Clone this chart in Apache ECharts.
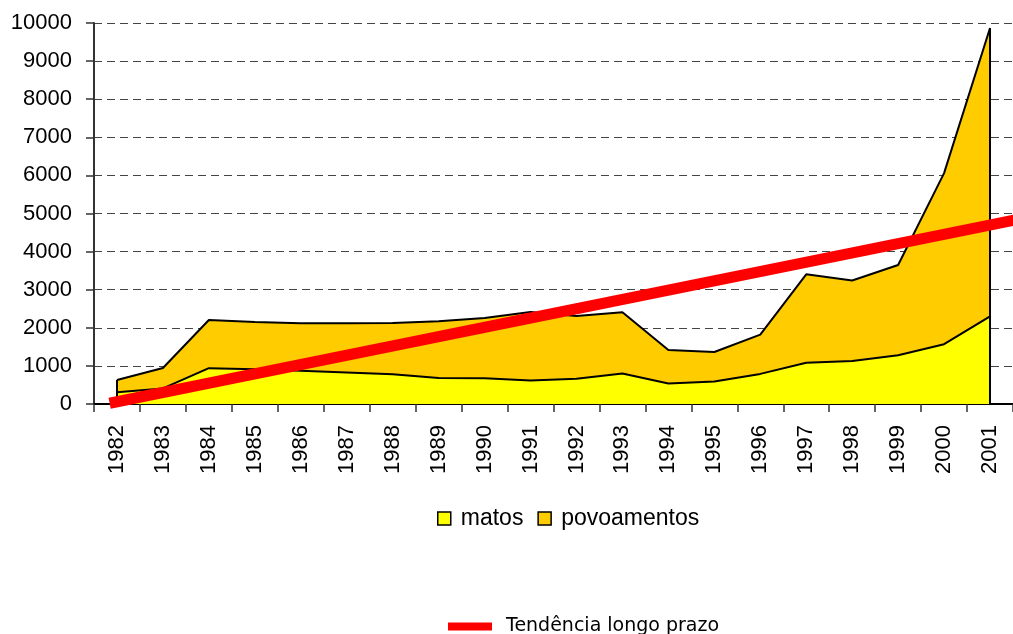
<!DOCTYPE html>
<html>
<head>
<meta charset="utf-8">
<style>
	html,body{ margin:0; padding:0; background:#fff;}
	#mainBox{ width:1013px; height:634px;}
</style>
</head>
<body>
<div id="mainBox"></div>
<script src="https://cdn.jsdelivr.net/npm/echarts@6/dist/echarts.min.js"></script>
<script>
var years=['1982','1983','1984','1985','1986','1987','1988','1989','1990','1991','1992','1993','1994','1995','1996','1997','1998','1999','2000','2001'];
var matos=[310,410,940,910,875,830,780,685,675,620,665,800,540,590,790,1085,1130,1280,1570,2300];
var povoamentos=[320,535,1265,1245,1245,1290,1345,1485,1585,1795,1645,1610,880,775,1030,2320,2110,2370,4490,7570];
var trendX=[-0.16,19.6];
var trendY=[20,4845];
var yTicks=[0,10000,1000];

var font='"Liberation Sans", Arial, sans-serif';
var last=years.length-1;
var trendData=[];
for(var i=0;i<trendX.length;i++){
	trendData.push([trendX[i],trendY[i]]);
}
// black outline on the two vertical ends of the stacked area
var edges=[
	[{coord:[years[0],0]},{coord:[years[0],matos[0]+povoamentos[0]]}],
	[{coord:[years[last],0]},{coord:[years[last],matos[last]+povoamentos[last]]}]
];

var myChart=echarts.init(document.getElementById('mainBox'));
myChart.setOption({
	animation:false,
	grid:{left:94,top:23,width:932,height:381,containLabel:false},
	legend:[{
		data:['matos','povoamentos'],
		left:437,top:507,padding:0,
		itemWidth:13,itemHeight:13,itemGap:14,
		icon:'rect',
		itemStyle:{borderColor:'#000',borderWidth:1.5},
		textStyle:{fontFamily:font,fontSize:23,color:'#000',padding:[0,0,0,5]}
	},{
		data:['Tendência longo prazo'],
		left:448,top:617,padding:0,
		itemWidth:44,itemHeight:8,
		icon:'rect',
		textStyle:{fontFamily:'"DejaVu Sans", sans-serif',fontSize:19,color:'#000',padding:[0,0,0,9]}
	}],
	xAxis:[{
		type:'category',
		data:years,
		boundaryGap:true,
		axisLine:{lineStyle:{color:'#000',width:2}},
		axisTick:{show:true,length:8,lineStyle:{color:'#333',width:1.5}},
		axisLabel:{rotate:90,margin:21,fontFamily:font,fontSize:22,color:'#000'}
	},{
		type:'value',
		min:-0.5,max:19.5,
		show:false
	}],
	yAxis:{
		type:'value',
		min:yTicks[0],max:yTicks[1],interval:yTicks[2],
		axisLine:{show:true,onZero:false,lineStyle:{color:'#333',width:2}},
		axisTick:{show:true,length:8,lineStyle:{color:'#333',width:1.5}},
		axisLabel:{margin:22,fontFamily:font,fontSize:22,color:'#000',formatter:function(v){return String(v);}},
		splitLine:{show:true,lineStyle:{color:'#444',width:1.2,type:[8,5]}}
	},
	series:[{
		name:'matos',
		type:'line',
		stack:'total',
		data:matos,
		showSymbol:false,
		itemStyle:{color:'#FFFF00'},
		lineStyle:{color:'#000',width:2},
		areaStyle:{color:'#FFFF00',opacity:1},
		z:2
	},{
		name:'povoamentos',
		type:'line',
		stack:'total',
		data:povoamentos,
		showSymbol:false,
		itemStyle:{color:'#FFCC00'},
		lineStyle:{color:'#000',width:2},
		areaStyle:{color:'#FFCC00',opacity:1},
		markLine:{
			silent:true,
			symbol:'none',
			label:{show:false},
			lineStyle:{color:'#000',width:2,type:'solid'},
			data:edges
		},
		z:2
	},{
		name:'Tendência longo prazo',
		type:'line',
		xAxisIndex:1,
		data:trendData,
		showSymbol:false,
		itemStyle:{color:'#FF0000'},
		lineStyle:{color:'#FF0000',width:11,cap:'butt'},
		clip:true,
		z:5
	}]
});
</script>
</body>
</html>
